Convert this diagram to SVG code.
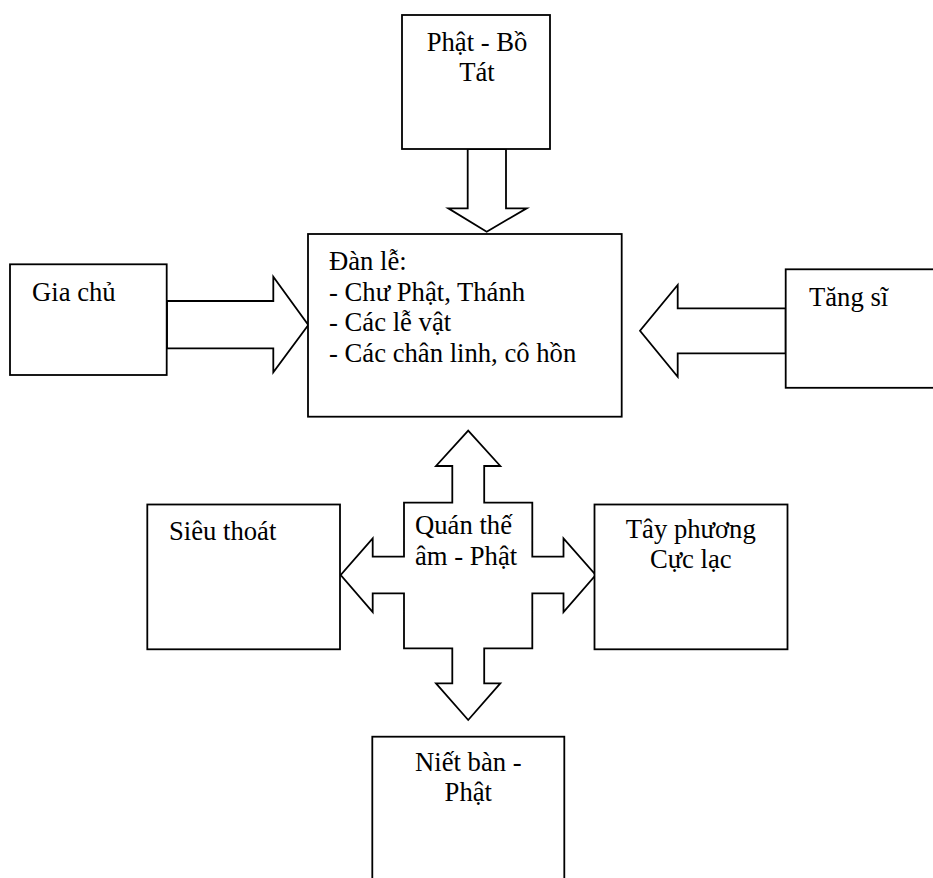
<svg xmlns="http://www.w3.org/2000/svg" width="933" height="878" viewBox="0 0 933 878">
  <style>
    .box { fill: #ffffff; stroke: #000000; stroke-width: 1.8; }
    .arrow { fill: #ffffff; stroke: #000000; stroke-width: 1.8; stroke-linejoin: miter; }
    .t { font-family: "Liberation Serif", "Times New Roman", serif; font-size: 26.67px; fill: #000000; }
    .c { text-anchor: middle; }
  </style>
  <rect x="0" y="0" width="933" height="878" fill="#ffffff"/>

  <g id="connectors">
    <polygon class="arrow" points="467.7,149 506,149 506,208.3 526.7,208.3 486.7,231.7 448.3,208.3 467.7,208.3"/>
    <polygon class="arrow" points="167,301 273.3,301 273.3,276.7 308.3,325 273.3,372.3 273.3,348.3 167,348.3"/>
    <polygon class="arrow" points="785.7,308.3 677.7,308.3 677.7,285 640,330.7 677.7,376.7 677.7,353.3 785.7,353.3"/>
  </g>

  <g id="phat-bo-tat">
    <rect class="box" x="402" y="15" width="148" height="134"/>
    <text class="t c" x="477" y="51">Phật - Bồ</text>
    <text class="t c" x="477" y="81">Tát</text>
  </g>

  <g id="gia-chu">
    <rect class="box" x="10" y="264.3" width="156.7" height="110.7"/>
    <text class="t" x="32" y="301">Gia chủ</text>
  </g>

  <g id="tang-si">
    <rect class="box" x="785.7" y="269.3" width="160" height="118.5"/>
    <text class="t" x="809" y="306">Tăng sĩ</text>
  </g>

  <g id="dan-le">
    <rect class="box" x="308" y="234" width="313.7" height="182.7"/>
    <text class="t" x="329" y="270">Đàn lễ:</text>
    <text class="t" x="329" y="300.5">- Chư Phật, Thánh</text>
    <text class="t" x="329" y="331">- Các lễ vật</text>
    <text class="t" x="329" y="361.5">- Các chân linh, cô hồn</text>
  </g>

  <g id="quan-the-am">
    <polygon class="arrow" points="468.2,430.7 500.3,466 484.2,466 484.2,502.7 532.3,502.7 532.3,556.7 563.5,556.7 563.5,538.3 595.7,575 563.5,612 563.5,593.3 532.3,593.3 532.3,648.3 484.2,648.3 484.2,683.3 500.3,683.3 468.2,720 436,683.3 452.3,683.3 452.3,648.3 404,648.3 404,593.3 372.7,593.3 372.7,612 340.7,575 372.7,538.3 372.7,556.7 404,556.7 404,502.7 452.3,502.7 452.3,466 436,466"/>
    <text class="t" x="415" y="534">Quán thế</text>
    <text class="t" x="415" y="565">âm - Phật</text>
  </g>

  <g id="sieu-thoat">
    <rect class="box" x="147.3" y="504.5" width="192.7" height="144.8"/>
    <text class="t" x="169" y="540">Siêu thoát</text>
  </g>

  <g id="tay-phuong">
    <rect class="box" x="594.5" y="504.5" width="193" height="144.8"/>
    <text class="t c" x="690.8" y="538">Tây phương</text>
    <text class="t c" x="690.8" y="568">Cực lạc</text>
  </g>

  <g id="niet-ban">
    <rect class="box" x="372.3" y="736.7" width="192" height="160"/>
    <text class="t c" x="468.3" y="771">Niết bàn -</text>
    <text class="t c" x="468.3" y="801">Phật</text>
  </g>
</svg>
